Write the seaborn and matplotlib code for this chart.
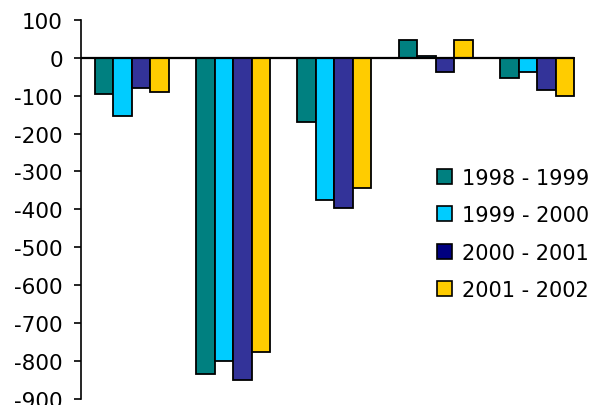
import matplotlib
matplotlib.use("Agg")
import matplotlib.pyplot as plt
from matplotlib.patches import Patch
import seaborn as sns
import pandas as pd

# Series and values per category group
categories = ["G1", "G2", "G3", "G4", "G5"]
periods = ["1998 - 1999", "1999 - 2000", "2000 - 2001", "2001 - 2002"]
v_1998_1999 = [-96, -834, -168, 48, -54]
v_1999_2000 = [-154, -801, -375, 5, -36]
v_2000_2001 = [-79, -850, -396, -36, -85]
v_2001_2002 = [-89, -776, -343, 48, -101]
y_ticks = [100, 0, -100, -200, -300, -400, -500, -600, -700, -800, -900]

bar_colors = ["#008080", "#00CCFF", "#333399", "#FFCC00"]
legend_colors = ["#008080", "#00CCFF", "#000080", "#FFCC00"]

series = [v_1998_1999, v_1999_2000, v_2000_2001, v_2001_2002]
df = pd.DataFrame(
    [(c, p, v) for p, vals in zip(periods, series) for c, v in zip(categories, vals)],
    columns=["category", "period", "value"],
)

sns.set_theme(style="white")
plt.rcParams["font.family"] = ["DejaVu Sans"]
plt.rcParams["text.color"] = "black"

fig = plt.figure(figsize=(5.97, 4.06), dpi=100)
ax = fig.add_axes([0.1357, 0.016, 0.849, 0.932])

sns.barplot(
    data=df, x="category", y="value", hue="period", order=categories,
    hue_order=periods, palette=bar_colors, saturation=1, width=0.73, gap=0,
    edgecolor="black", linewidth=1.3, ax=ax, legend=False,
)

ax.set_ylim(-900, 100)
ax.set_xlim(-0.5, 4.5)
ax.set_yticks(y_ticks)
ax.set_yticklabels([str(t) for t in y_ticks])
ax.set_xticks([])
ax.set_xlabel("")
ax.set_ylabel("")

for side in ["top", "right", "bottom"]:
    ax.spines[side].set_visible(False)
ax.spines["left"].set_linewidth(1.2)
ax.spines["left"].set_color("black")
ax.tick_params(axis="y", which="major", left=True, length=5, width=1.2,
               color="black", pad=8, labelsize=15.5, labelcolor="black")

# category axis crossing at zero
ax.axhline(0, xmin=0, xmax=(4 + 0.365 + 0.5) / 5, color="black", lw=1.6, zorder=5)

handles = [Patch(facecolor=c, edgecolor="black", linewidth=1.2) for c in legend_colors]
leg = ax.legend(
    handles, periods, loc="upper left", bbox_to_anchor=(0.702, 0.61),
    frameon=False, fontsize=15, handlelength=0.72, handleheight=0.72,
    handletextpad=0.48, labelspacing=0.84, borderaxespad=0, borderpad=0,
)
for t in leg.get_texts():
    t.set_color("black")

fig.savefig("out.png", dpi=100)
